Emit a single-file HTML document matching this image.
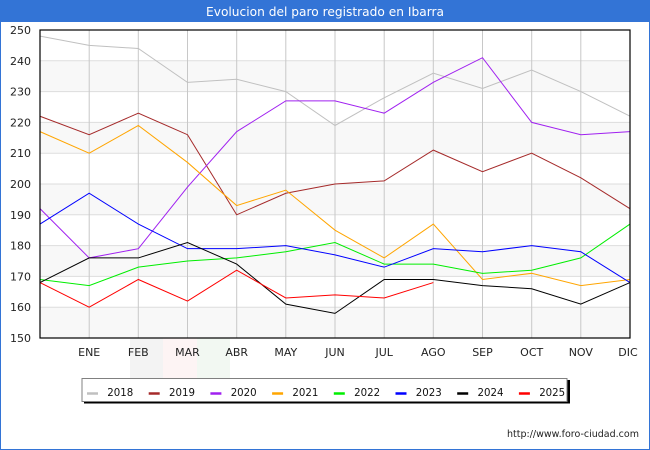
<!DOCTYPE html>
<html><head><meta charset="utf-8"><style>
html,body{margin:0;padding:0;background:#fff}
svg{display:block}
text{font-family:"DejaVu Sans","Liberation Sans",sans-serif}
</style></head><body>
<svg width="650" height="450" viewBox="0 0 650 450" xmlns="http://www.w3.org/2000/svg">
<rect x="0" y="0" width="650" height="450" fill="#fff"/>
<rect x="0.5" y="0.5" width="649" height="449" fill="none" stroke="#3374d6" stroke-width="1"/>
<rect x="0" y="0" width="650" height="22" fill="#3374d6"/>
<text x="325" y="16" fill="#fff" font-size="12" text-anchor="middle" textLength="238" lengthAdjust="spacingAndGlyphs">Evolucion del paro registrado en Ibarra</text>
<!-- bands -->
<g fill="#f8f8f8">
<rect x="40" y="60.8" width="590" height="30.8"/>
<rect x="40" y="122.4" width="590" height="30.8"/>
<rect x="40" y="184" width="590" height="30.8"/>
<rect x="40" y="245.6" width="590" height="30.8"/>
<rect x="40" y="307.2" width="590" height="30.8"/>
</g>
<!-- watermark -->
<rect x="130" y="338" width="33" height="42" fill="#f3f3f3"/>
<rect x="163" y="338" width="34" height="42" fill="#fdf4f4"/>
<rect x="197" y="338" width="33" height="42" fill="#f2f8f2"/>
<!-- horizontal grid -->
<g stroke="#dddddd" stroke-width="1">
<line x1="40" x2="630" y1="60.8" y2="60.8"/>
<line x1="40" x2="630" y1="91.6" y2="91.6"/>
<line x1="40" x2="630" y1="122.4" y2="122.4"/>
<line x1="40" x2="630" y1="153.2" y2="153.2"/>
<line x1="40" x2="630" y1="184" y2="184"/>
<line x1="40" x2="630" y1="214.8" y2="214.8"/>
<line x1="40" x2="630" y1="245.6" y2="245.6"/>
<line x1="40" x2="630" y1="276.4" y2="276.4"/>
<line x1="40" x2="630" y1="307.2" y2="307.2"/>
</g>
<g stroke="#c8c8c8" stroke-width="1">
<line y1="30" y2="338" x1="89.2" x2="89.2"/>
<line y1="30" y2="338" x1="138.3" x2="138.3"/>
<line y1="30" y2="338" x1="187.5" x2="187.5"/>
<line y1="30" y2="338" x1="236.7" x2="236.7"/>
<line y1="30" y2="338" x1="285.8" x2="285.8"/>
<line y1="30" y2="338" x1="335" x2="335"/>
<line y1="30" y2="338" x1="384.2" x2="384.2"/>
<line y1="30" y2="338" x1="433.3" x2="433.3"/>
<line y1="30" y2="338" x1="482.5" x2="482.5"/>
<line y1="30" y2="338" x1="531.7" x2="531.7"/>
<line y1="30" y2="338" x1="580.8" x2="580.8"/>
</g>
<!-- series -->
<g transform="translate(40,338) scale(49.1667,-3.08)" fill="none" stroke-width="1">
<polyline vector-effect="non-scaling-stroke" stroke="#c0c0c0" points="0,98 1,95 2,94 3,83 4,84 5,80 6,69 7,78 8,86 9,81 10,87 11,80 12,72"/>
<polyline vector-effect="non-scaling-stroke" stroke="#a52a2a" points="0,72 1,66 2,73 3,66 4,40 5,47 6,50 7,51 8,61 9,54 10,60 11,52 12,42"/>
<polyline vector-effect="non-scaling-stroke" stroke="#a020f0" points="0,42 1,26 2,29 3,49 4,67 5,77 6,77 7,73 8,83 9,91 10,70 11,66 12,67"/>
<polyline vector-effect="non-scaling-stroke" stroke="#ffa500" points="0,67 1,60 2,69 3,57 4,43 5,48 6,35 7,26 8,37 9,19 10,21 11,17 12,19"/>
<polyline vector-effect="non-scaling-stroke" stroke="#00ee00" points="0,19 1,17 2,23 3,25 4,26 5,28 6,31 7,24 8,24 9,21 10,22 11,26 12,37"/>
<polyline vector-effect="non-scaling-stroke" stroke="#0000ff" points="0,37 1,47 2,37 3,29 4,29 5,30 6,27 7,23 8,29 9,28 10,30 11,28 12,18"/>
<polyline vector-effect="non-scaling-stroke" stroke="#000000" points="0,18 1,26 2,26 3,31 4,24 5,11 6,8 7,19 8,19 9,17 10,16 11,11 12,18"/>
<polyline vector-effect="non-scaling-stroke" stroke="#ff0000" points="0,18 1,10 2,19 3,12 4,22 5,13 6,14 7,13 8,18"/>
</g>
<!-- axes -->
<rect x="40" y="30" width="590" height="308" fill="none" stroke="#000" stroke-width="1.2"/>
<!-- y labels -->
<g font-size="11" fill="#222" text-anchor="end">
<text x="31" y="34">250</text>
<text x="31" y="64.8">240</text>
<text x="31" y="95.6">230</text>
<text x="31" y="126.4">220</text>
<text x="31" y="157.2">210</text>
<text x="31" y="188">200</text>
<text x="31" y="218.8">190</text>
<text x="31" y="249.6">180</text>
<text x="31" y="280.4">170</text>
<text x="31" y="311.2">160</text>
<text x="31" y="342">150</text>
</g>
<g font-size="11" fill="#222" text-anchor="middle">
<text x="89.2" y="356">ENE</text>
<text x="138.3" y="356">FEB</text>
<text x="187.5" y="356">MAR</text>
<text x="236.7" y="356">ABR</text>
<text x="285.8" y="356">MAY</text>
<text x="335" y="356">JUN</text>
<text x="384.2" y="356">JUL</text>
<text x="433.3" y="356">AGO</text>
<text x="482.5" y="356">SEP</text>
<text x="531.7" y="356">OCT</text>
<text x="580.8" y="356">NOV</text>
<text x="628" y="356">DIC</text>
</g>
<!-- legend -->
<rect x="84" y="380" width="486" height="23.5" fill="#000"/>
<rect x="82" y="378.5" width="485" height="23" fill="#fff" stroke="#808080" stroke-width="1"/>
<g stroke-width="2.5">
<line x1="87" x2="98" y1="393.5" y2="393.5" stroke="#c0c0c0"/>
<line x1="148.7" x2="159.7" y1="393.5" y2="393.5" stroke="#a52a2a"/>
<line x1="210.4" x2="221.4" y1="393.5" y2="393.5" stroke="#a020f0"/>
<line x1="272.1" x2="283.1" y1="393.5" y2="393.5" stroke="#ffa500"/>
<line x1="333.8" x2="344.8" y1="393.5" y2="393.5" stroke="#00ee00"/>
<line x1="395.5" x2="406.5" y1="393.5" y2="393.5" stroke="#0000ff"/>
<line x1="457.2" x2="468.2" y1="393.5" y2="393.5" stroke="#000000"/>
<line x1="518.9" x2="529.9" y1="393.5" y2="393.5" stroke="#ff0000"/>
</g>
<g font-size="11" fill="#111">
<text x="107.3" y="396" textLength="26" lengthAdjust="spacingAndGlyphs">2018</text>
<text x="169" y="396" textLength="26" lengthAdjust="spacingAndGlyphs">2019</text>
<text x="230.7" y="396" textLength="26" lengthAdjust="spacingAndGlyphs">2020</text>
<text x="292.4" y="396" textLength="26" lengthAdjust="spacingAndGlyphs">2021</text>
<text x="354.1" y="396" textLength="26" lengthAdjust="spacingAndGlyphs">2022</text>
<text x="415.8" y="396" textLength="26" lengthAdjust="spacingAndGlyphs">2023</text>
<text x="477.5" y="396" textLength="26" lengthAdjust="spacingAndGlyphs">2024</text>
<text x="539.2" y="396" textLength="26" lengthAdjust="spacingAndGlyphs">2025</text>
</g>
<text x="507" y="437" font-size="10" fill="#222" textLength="132" lengthAdjust="spacingAndGlyphs">http://www.foro-ciudad.com</text>
</svg>
</body></html>
